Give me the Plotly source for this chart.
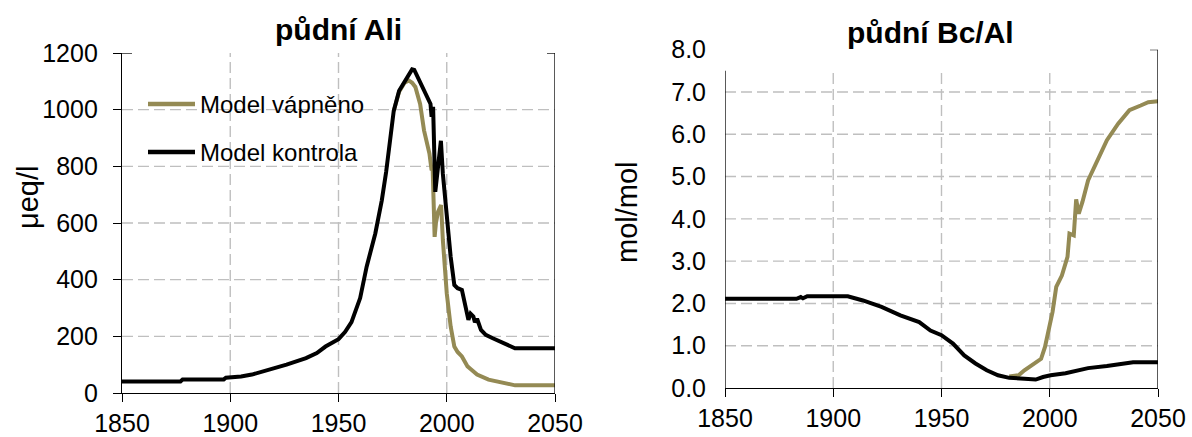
import plotly.graph_objects as go

# --- půdní Ali (µeq/l) ---
ali_kontrola_years = [1850, 1877, 1878, 1897, 1898, 1905, 1910, 1917, 1926, 1935, 1940, 1944, 1950,
                      1953, 1956, 1960, 1963, 1967, 1970, 1972, 1974, 1975.5, 1978, 1981, 1984,
                      1985, 1987, 1989, 1991, 1992.5, 1993, 1993.7, 1994.7, 1996, 1997.3, 1998.2,
                      2000, 2001.8, 2003.5, 2005, 2007, 2008.8, 2010, 2011, 2012.3, 2013, 2014,
                      2015.8, 2018, 2021, 2026, 2031.5, 2050]
ali_kontrola = [41, 41, 48, 48, 54, 58, 65, 80, 100, 123, 141, 164, 190,
                215, 250, 335, 446, 563, 680, 780, 915, 995, 1067, 1105, 1142,
                1140, 1110, 1080, 1050, 1020, 975, 1010, 710, 800, 890, 774,
                622, 481, 381, 370, 364, 305, 258, 280, 270, 250, 262,
                223, 205, 194, 176, 158, 158]

ali_vapneno_years = [1975.5, 1978, 1980.5, 1982.5, 1984, 1985.5, 1987.7, 1989.5, 1992, 1993,
                     1993.5, 1994.4, 1995, 1996, 1997.4, 1998.2, 2000, 2001.8, 2003.5, 2005,
                     2007, 2009.6, 2011, 2014, 2019.3, 2026.3, 2031.6, 2050]
ali_vapneno = [995, 1063, 1095, 1103, 1095, 1080, 1020, 927, 845, 786,
               790, 551, 600, 640, 663, 540, 352, 235, 164, 145,
               129, 94, 85, 65, 47, 35, 27, 27]

# --- půdní Bc/Al (mol/mol) ---
bcal_kontrola_years = [1850, 1883, 1885, 1886, 1888, 1906.7, 1913.7, 1922.3, 1931, 1939.7, 1944.9,
                       1950, 1955.3, 1960.5, 1965.7, 1970.9, 1976.1, 1981.3, 1988.3, 1993.5,
                       1996.9, 2000.4, 2007.3, 2012.5, 2017.7, 2026.4, 2035, 2038.5, 2050]
bcal_kontrola = [2.11, 2.11, 2.15, 2.12, 2.17, 2.17, 2.07, 1.92, 1.72, 1.56, 1.36,
                 1.25, 1.05, 0.77, 0.58, 0.42, 0.30, 0.24, 0.22, 0.20,
                 0.26, 0.30, 0.35, 0.42, 0.47, 0.52, 0.58, 0.61, 0.61]

bcal_vapneno_years = [1981.3, 1985.6, 1988.3, 1991.7, 1994.3, 1996, 1997.8, 1999.5, 2001.3, 2003,
                      2005.6, 2008.2, 2009.1, 2011.1, 2012.2, 2013.4, 2015.1, 2017.7, 2021.2,
                      2026.4, 2031.6, 2036.8, 2042, 2045.5, 2050]
bcal_vapneno = [0.27, 0.30, 0.42, 0.54, 0.65, 0.69, 0.97, 1.36, 1.80, 2.39,
                2.66, 3.10, 3.65, 3.61, 4.46, 4.12, 4.40, 4.91, 5.31,
                5.86, 6.25, 6.57, 6.68, 6.76, 6.78]

series_names = ["Model vápněno", "Model kontrola"]
series_colors = ["#948A54", "#000000"]

year_ticks = [1850, 1900, 1950, 2000, 2050]
ali_ticks = [0, 200, 400, 600, 800, 1000, 1200]
bcal_ticks = [0, 1, 2, 3, 4, 5, 6, 7, 8]
bcal_plot_top = 7.5

W, H = 1192, 437
FONT = "Liberation Sans, Arial, sans-serif"
TICK_SIZE = 25
LEGEND_SIZE = 24
AXIS_TITLE_SIZE = 29
TITLE_SIZE = 30
GRID_COLOR = "#BFBFBF"
GRID_DASH = "11px,5px"
LINE_W = 4

fig = go.Figure()

# left panel
fig.add_trace(go.Scatter(x=ali_vapneno_years, y=ali_vapneno, mode="lines",
                         line=dict(color=series_colors[0], width=LINE_W),
                         name=series_names[0], xaxis="x", yaxis="y", showlegend=False))
fig.add_trace(go.Scatter(x=ali_kontrola_years, y=ali_kontrola, mode="lines",
                         line=dict(color=series_colors[1], width=LINE_W),
                         name=series_names[1], xaxis="x", yaxis="y", showlegend=False))
# right panel
fig.add_trace(go.Scatter(x=bcal_vapneno_years, y=bcal_vapneno, mode="lines",
                         line=dict(color=series_colors[0], width=LINE_W),
                         name=series_names[0], xaxis="x2", yaxis="y2", showlegend=False))
fig.add_trace(go.Scatter(x=bcal_kontrola_years, y=bcal_kontrola, mode="lines",
                         line=dict(color=series_colors[1], width=LINE_W),
                         name=series_names[1], xaxis="x2", yaxis="y2", showlegend=False))

tickfont = dict(family=FONT, size=TICK_SIZE, color="#000000")
Y_STANDOFF = 10
X_STANDOFF = 0

common_x = dict(range=[year_ticks[0], year_ticks[-1]], tickvals=year_ticks,
                ticks="outside", ticklen=8, tickwidth=1.3, tickcolor="#000000",
                showline=True, linecolor="#000000", linewidth=1.3,
                showgrid=False, zeroline=False, tickfont=tickfont,
                ticklabelstandoff=X_STANDOFF, automargin=False)

L_X = [122 / W, 555 / W]
L_Y = [1 - 393 / H, 1 - 53 / H]
R_X = [725 / W, 1158 / W]
R_Y = [1 - 388 / H, 1 - 49.7 / H]

fig.update_layout(
    width=W, height=H,
    margin=dict(l=0, r=0, t=0, b=0, pad=0),
    paper_bgcolor="white", plot_bgcolor="white",
    showlegend=False,
    xaxis=dict(domain=L_X, anchor="y", **common_x),
    yaxis=dict(domain=L_Y, anchor="x", range=[ali_ticks[0], ali_ticks[-1]],
               tickvals=ali_ticks, ticks="outside", ticklen=8, tickwidth=1.3,
               tickcolor="#000000", showline=True, linecolor="#000000", linewidth=1.3,
               showgrid=False, zeroline=False, tickfont=tickfont,
               ticklabelstandoff=Y_STANDOFF, automargin=False),
    xaxis2=dict(domain=R_X, anchor="y2", **common_x),
    yaxis2=dict(domain=R_Y, anchor="x2", range=[bcal_ticks[0], bcal_ticks[-1]],
                tickvals=bcal_ticks, ticktext=[f"{v:.1f}" for v in bcal_ticks],
                ticks="", showline=False, showgrid=False, zeroline=False,
                tickfont=tickfont, ticklabelstandoff=Y_STANDOFF + 8, automargin=False),
    # tick marks of the right panel stop below the top label
    yaxis3=dict(overlaying="y2", anchor="x2", side="left",
                range=[bcal_ticks[0], bcal_ticks[-1]],
                tickvals=[v for v in bcal_ticks if v <= bcal_plot_top],
                ticks="outside", ticklen=8, tickwidth=1.3, tickcolor="#000000",
                showticklabels=False, showline=False, showgrid=False, zeroline=False,
                automargin=False),
)

shapes = []
grid = dict(color=GRID_COLOR, width=1.4, dash=GRID_DASH)
black = dict(color="#000000", width=1.3)

# left panel grid
for yv in ali_ticks[1:-1]:
    shapes.append(dict(type="line", xref="x domain", yref="y", x0=0, x1=1, y0=yv, y1=yv,
                       line=grid, layer="below"))
for xv in year_ticks[1:-1]:
    shapes.append(dict(type="line", xref="x", yref="y", x0=xv, x1=xv,
                       y0=ali_ticks[0], y1=ali_ticks[-1], line=grid, layer="below"))
# left panel right border, top ticks
shapes.append(dict(type="line", xref="x", yref="y", x0=year_ticks[-1], x1=year_ticks[-1],
                   y0=ali_ticks[0], y1=ali_ticks[-1], line=black))
shapes.append(dict(type="line", xref="x", yref="y", xsizemode="pixel", xanchor=year_ticks[-1],
                   x0=-8, x1=0, y0=ali_ticks[-1], y1=ali_ticks[-1], line=black))
shapes.append(dict(type="line", xref="x", yref="y", xsizemode="pixel", xanchor=year_ticks[0],
                   x0=0, x1=10, y0=ali_ticks[-1], y1=ali_ticks[-1], line=black))

# right panel grid
for yv in bcal_ticks[1:-1]:
    shapes.append(dict(type="line", xref="x2 domain", yref="y2", x0=0, x1=1, y0=yv, y1=yv,
                       line=grid, layer="below"))
for xv in year_ticks[1:-1]:
    shapes.append(dict(type="line", xref="x2", yref="y2", x0=xv, x1=xv,
                       y0=bcal_ticks[0], y1=bcal_plot_top, line=grid, layer="below"))
# right panel left axis line, right border and its top tick
shapes.append(dict(type="line", xref="x2", yref="y2", x0=year_ticks[0], x1=year_ticks[0],
                   y0=bcal_ticks[0], y1=bcal_plot_top, line=black))
shapes.append(dict(type="line", xref="x2", yref="y2", x0=year_ticks[-1], x1=year_ticks[-1],
                   y0=bcal_ticks[0], y1=bcal_ticks[-1], line=black))
shapes.append(dict(type="line", xref="x2", yref="y2", xsizemode="pixel", xanchor=year_ticks[-1],
                   x0=-8, x1=0, y0=bcal_ticks[-1], y1=bcal_ticks[-1], line=black))

# legend samples inside the left panel
legend_rows = [104, 152]
for name, color, ypix in zip(series_names, series_colors, legend_rows):
    shapes.append(dict(type="line", xref="paper", yref="paper",
                       x0=148 / W, x1=195 / W, y0=1 - ypix / H, y1=1 - ypix / H,
                       line=dict(color=color, width=4.5)))
fig.update_layout(shapes=shapes)

annotations = [
    dict(text="<b>půdní Ali</b>", x=338 / W, y=1 - 29 / H),
    dict(text="<b>půdní Bc/Al</b>", x=930 / W, y=1 - 33 / H),
]
for a in annotations:
    a.update(xref="paper", yref="paper", xanchor="center", yanchor="middle",
             showarrow=False, font=dict(family=FONT, size=TITLE_SIZE, color="#000000"))

axis_titles = [
    dict(text="μeq/l", x=28 / W, y=1 - 198 / H, textangle=-90),
    dict(text="mol/mol", x=627 / W, y=1 - 212 / H, textangle=-90),
]
for a in axis_titles:
    a.update(xref="paper", yref="paper", showarrow=False, xanchor="center", yanchor="middle",
             font=dict(family=FONT, size=AXIS_TITLE_SIZE, color="#000000"))
annotations += axis_titles

for name, ypix in zip(series_names, legend_rows):
    annotations.append(dict(text=name, x=198 / W, y=1 - ypix / H, xanchor="left",
                            yanchor="middle", xref="paper", yref="paper", showarrow=False,
                            font=dict(family=FONT, size=LEGEND_SIZE, color="#000000")))
fig.update_layout(annotations=annotations)

fig.write_html("out.html")
